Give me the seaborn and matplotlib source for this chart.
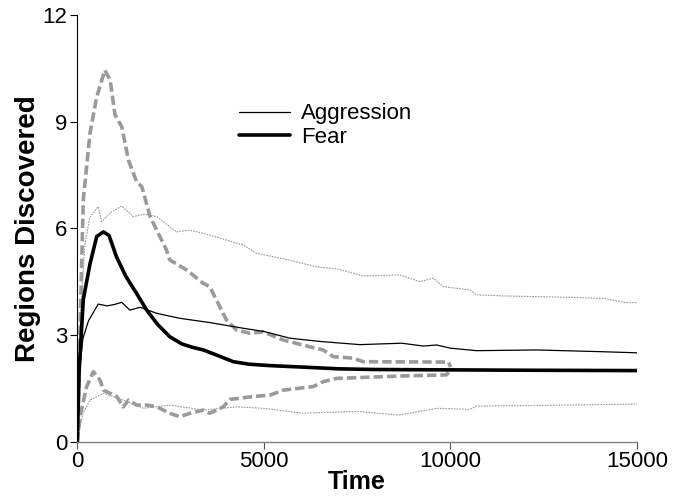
import numpy as np
import pandas as pd
import matplotlib
matplotlib.use("Agg")
import matplotlib.pyplot as plt
import seaborn as sns

######################## DATA ########################
# Aggression mean
agg_mean_x = [0, 60, 150, 300, 560, 800, 1000, 1190, 1410, 1680, 2130, 2750, 3550,
              4450, 5000, 5700, 6500, 7570, 8700, 9270, 9630, 10000, 10700, 12300, 14100, 15000]
agg_mean_y = [0, 2.0, 2.9, 3.4, 3.87, 3.82, 3.86, 3.92, 3.70, 3.78, 3.61, 3.47, 3.35,
              3.19, 3.10, 2.91, 2.82, 2.73, 2.77, 2.69, 2.72, 2.63, 2.56, 2.58, 2.53, 2.50]

# Aggression upper / lower bound
agg_hi_x = [0, 80, 200, 330, 560, 650, 900, 1190, 1500, 1800, 2130, 2660, 3000, 3380,
            3900, 4450, 4800, 5500, 6410, 7000, 7660, 8640, 9180, 9540, 9800, 10520,
            10700, 11400, 13200, 14090, 14700, 15000]
agg_hi_y = [0, 3.5, 5.5, 6.3, 6.61, 6.19, 6.45, 6.63, 6.33, 6.4, 6.33, 5.9, 5.95, 5.86,
            5.7, 5.53, 5.30, 5.15, 4.92, 4.85, 4.66, 4.69, 4.5, 4.6, 4.36, 4.27,
            4.13, 4.10, 4.06, 4.03, 3.91, 3.91]
agg_lo_x = [0, 150, 340, 700, 1230, 1770, 2480, 3380, 4270, 4980, 6050, 7500, 8640,
            9000, 9630, 10520, 10700, 13200, 15000]
agg_lo_y = [0, 0.8, 1.17, 1.36, 1.17, 0.94, 1.03, 0.89, 0.98, 0.94, 0.80, 0.85, 0.75,
            0.82, 0.94, 0.91, 1.0, 1.03, 1.06]

# Fear mean
fear_mean_x = [0, 50, 160, 340, 520, 700, 850, 1050, 1300, 1600, 1860, 2150, 2480, 2800,
               3100, 3380, 3700, 4180, 4600, 5160, 6000, 7000, 8000, 10000, 12000, 15000]
fear_mean_y = [0, 2.0, 4.0, 5.0, 5.77, 5.9, 5.8, 5.2, 4.65, 4.15, 3.7, 3.3, 2.95, 2.75,
               2.65, 2.58, 2.45, 2.25, 2.18, 2.14, 2.1, 2.05, 2.03, 2.02, 2.01, 2.0]

# Fear upper / lower bound (runs stop at 10000)
fear_hi_x = [0, 160, 340, 520, 740, 880, 1010, 1190, 1370, 1590, 1730, 1950, 2390, 2480,
             2930, 3380, 3550, 3730, 4000, 4270, 4630, 4980, 5520, 6230, 6590, 6860,
             7390, 7660, 9950, 10000]
fear_hi_y = [0, 6.8, 8.67, 9.70, 10.45, 10.17, 9.19, 8.86, 7.92, 7.31, 7.17, 6.33, 5.39, 5.11,
             4.83, 4.45, 4.36, 3.98, 3.42, 3.14, 3.05, 3.09, 2.86, 2.67, 2.58, 2.39,
             2.35, 2.25, 2.24, 2.1]
fear_lo_x = [0, 70, 250, 430, 610, 700, 880, 1060, 1230, 1370, 1590, 1860, 2130, 2480,
             2750, 3020, 3380, 3550, 3910, 4090, 4710, 5160, 5520, 6320, 6590, 6950,
             8730, 9890, 10000]
fear_lo_y = [0, 0.7, 1.55, 1.97, 1.73, 1.45, 1.36, 1.27, 0.98, 1.17, 1.03, 1.03, 0.98, 0.80,
             0.70, 0.80, 0.89, 0.80, 0.98, 1.19, 1.27, 1.31, 1.45, 1.55, 1.69, 1.78,
             1.85, 1.88, 2.0]

x_ticks = [0, 5000, 10000, 15000]
y_ticks = [0, 3, 6, 9, 12]

######################## PLOT ########################
sns.set_style("ticks")
plt.rcParams['font.family'] = ['Liberation Sans', 'DejaVu Sans']
plt.rcParams['text.color'] = 'black'
plt.rcParams['axes.labelcolor'] = 'black'
plt.rcParams['xtick.color'] = 'black'
plt.rcParams['ytick.color'] = 'black'

fig = plt.figure(figsize=(6.74, 4.99), dpi=100)
ax = fig.add_axes([0.1147, 0.1148, 0.8305, 0.8552])

GRAY = '#9a9a9a'

def draw(x, y, color, lw, dashes=None, label=None):
    sns.lineplot(x=x, y=y, ax=ax, color=color, linewidth=lw, estimator=None,
                 sort=False, label=label, legend=False)
    line = ax.lines[-1]
    if dashes is not None:
        line.set_dashes(dashes)
    return line

draw(agg_hi_x, agg_hi_y, GRAY, 0.8, dashes=(1.5, 1.0))
draw(agg_lo_x, agg_lo_y, GRAY, 0.8, dashes=(1.5, 1.0))
draw(fear_hi_x, fear_hi_y, GRAY, 2.6, dashes=(2.6, 1.1))
draw(fear_lo_x, fear_lo_y, GRAY, 2.6, dashes=(2.6, 1.1))
h_agg = draw(agg_mean_x, agg_mean_y, 'black', 0.9, label='Aggression')
h_fear = draw(fear_mean_x, fear_mean_y, 'black', 2.6, label='Fear')

ax.set_xlim(0, 15000)
ax.set_ylim(0, 12)
ax.set_xticks(x_ticks)
ax.set_yticks(y_ticks)
ax.tick_params(axis='both', labelsize=16, length=5, width=0.8, pad=2)
ax.tick_params(axis='x', color='#555555')
sns.despine(ax=ax)
ax.spines['left'].set_color('black')
ax.spines['left'].set_linewidth(0.8)
ax.spines['bottom'].set_color('#808080')
ax.spines['bottom'].set_linewidth(1.0)

ax.set_xlabel('Time', fontsize=18, fontweight='bold', labelpad=-2)
ax.set_ylabel('Regions Discovered', fontsize=20, fontweight='bold', labelpad=1)

fig.legend(handles=[h_agg, h_fear], labels=['Aggression', 'Fear'],
           loc='upper left', bbox_to_anchor=(0.338, 0.815), frameon=False,
           fontsize=16, handlelength=2.3, handletextpad=0.5, labelspacing=0.1,
           borderpad=0)

fig.savefig('out.png', dpi=100)
